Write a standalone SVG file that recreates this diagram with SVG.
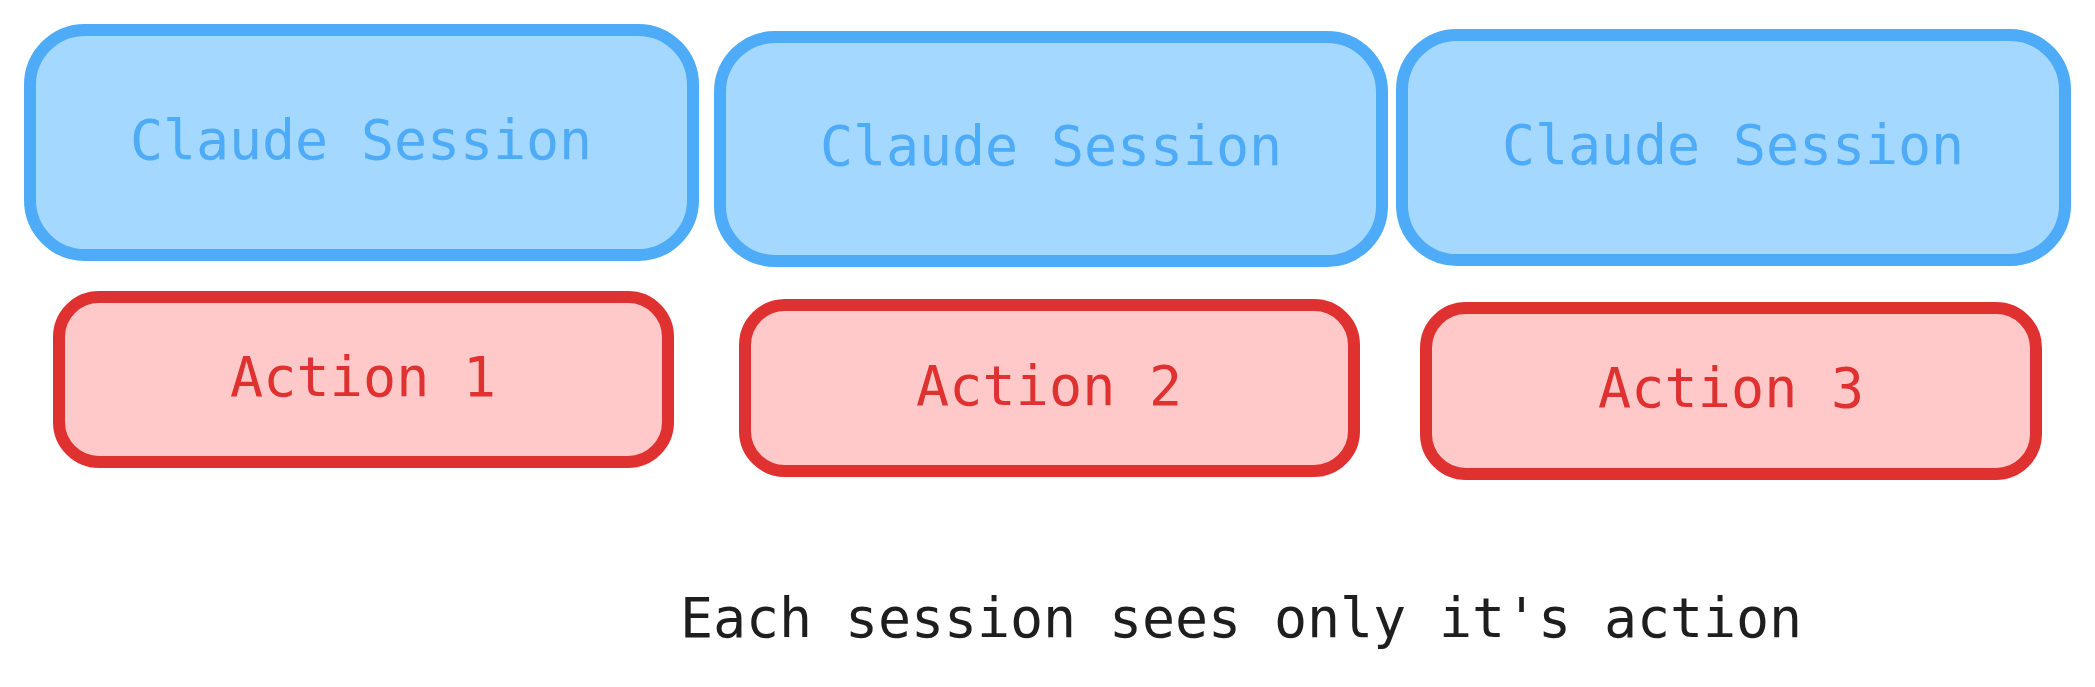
<svg xmlns="http://www.w3.org/2000/svg" width="2095" height="687" viewBox="0 0 2095 687">
  <style>
    .session rect { fill: #a5d8ff; stroke: #4dabf7; stroke-width: 12; }
    .action rect { fill: #ffc9c9; stroke: #e03131; stroke-width: 12; }
    text { font-family: "DejaVu Sans Mono", "Liberation Mono", monospace; font-size: 55px; text-anchor: middle; }
    .session text { fill: #4dabf7; }
    .action text { fill: #e03131; }
    .note { fill: #1e1e1e; }
  </style>
  <rect width="2095" height="687" fill="#ffffff"/>
  <g id="session1" class="session">
    <rect x="30" y="30" width="663" height="225" rx="55"/>
    <text x="361" y="159" textLength="462" lengthAdjust="spacing">Claude Session</text>
  </g>
  <g id="session2" class="session">
    <rect x="720" y="37" width="662" height="224" rx="55"/>
    <text x="1051" y="165" textLength="462" lengthAdjust="spacing">Claude Session</text>
  </g>
  <g id="session3" class="session">
    <rect x="1402" y="35" width="663" height="225" rx="55"/>
    <text x="1733" y="164" textLength="462" lengthAdjust="spacing">Claude Session</text>
  </g>
  <g id="action1" class="action">
    <rect x="59" y="297" width="609" height="165" rx="40"/>
    <text x="363" y="396" textLength="266" lengthAdjust="spacing">Action 1</text>
  </g>
  <g id="action2" class="action">
    <rect x="745" y="305" width="609" height="166" rx="40"/>
    <text x="1049" y="405" textLength="266" lengthAdjust="spacing">Action 2</text>
  </g>
  <g id="action3" class="action">
    <rect x="1426" y="308" width="610" height="166" rx="40"/>
    <text x="1731" y="407" textLength="266" lengthAdjust="spacing">Action 3</text>
  </g>
  <g id="connectors"/>
  <g id="caption">
    <text class="note" x="1241" y="637" textLength="1122" lengthAdjust="spacing">Each session sees only it's action</text>
  </g>
</svg>
